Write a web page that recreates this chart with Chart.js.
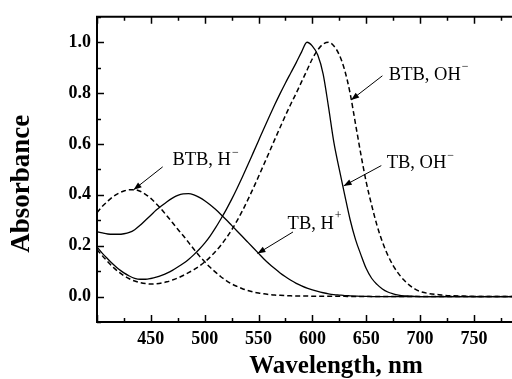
<!DOCTYPE html>
<html>
<head>
<meta charset="utf-8">
<script src="https://cdn.jsdelivr.net/npm/chart.js@4/dist/chart.umd.min.js"></script>
<style>
  html, body { margin: 0; padding: 0; background: #fff; overflow: hidden; }
  #wrap { width: 518px; height: 379px; }
</style>
</head>
<body>
<div id="wrap"><canvas id="spectra" width="518" height="379"></canvas></div>
<script>
// Longitudes de onda (nm) comunes a las cuatro curvas
const wavelength = [
  400, 405, 410, 415, 420, 425, 430, 435, 440, 445, 450, 455, 460, 465, 470, 475, 480, 485, 490, 495,
  500, 505, 510, 515, 520, 525, 530, 535, 540, 545, 550, 555, 560, 565, 570, 575, 580, 585, 590, 595,
  600, 605, 610, 615, 620, 625, 630, 635, 640, 645, 650, 655, 660, 665, 670, 675, 680, 685, 690, 695,
  700, 720, 740, 760, 790
];

// TB, H+ (continua)
const tbAcid = [
  0.255, 0.250, 0.246, 0.245, 0.245, 0.247, 0.252, 0.263, 0.280, 0.300, 0.320, 0.340, 0.357, 0.373, 0.387, 0.398, 0.404, 0.405, 0.400, 0.390,
  0.377, 0.361, 0.343, 0.323, 0.302, 0.280, 0.258, 0.236, 0.214, 0.192, 0.170, 0.148, 0.128, 0.110, 0.093, 0.078, 0.064, 0.052, 0.042, 0.033,
  0.026, 0.020, 0.015, 0.011, 0.008, 0.006, 0.004, 0.003, 0.002, 0.001, 0.001, 0, 0, 0, 0, 0, 0, 0, 0, 0,
  0, 0, 0, 0, 0
];

// BTB, H (discontinua)
const btbAcid = [
  0.330, 0.355, 0.375, 0.393, 0.406, 0.415, 0.420, 0.420, 0.414, 0.402, 0.386, 0.365, 0.342, 0.317, 0.291, 0.265, 0.240, 0.213, 0.186, 0.160,
  0.137, 0.115, 0.096, 0.078, 0.063, 0.050, 0.040, 0.031, 0.024, 0.018, 0.014, 0.011, 0.008, 0.006, 0.005, 0.004, 0.003, 0.002, 0.002, 0.002,
  0.001, 0.001, 0.001, 0.001, 0.001, 0.001, 0.001, 0, 0, 0, 0, 0, 0, 0, 0, 0, 0, 0, 0, 0,
  0, 0, 0, 0, 0
];

// TB, OH- (continua)
const tbBase = [
  0.195, 0.170, 0.148, 0.127, 0.108, 0.093, 0.081, 0.072, 0.068, 0.068, 0.071, 0.076, 0.083, 0.092, 0.103, 0.116, 0.130, 0.146, 0.165, 0.186,
  0.210, 0.238, 0.270, 0.305, 0.342, 0.382, 0.425, 0.470, 0.517, 0.565, 0.613, 0.661, 0.708, 0.754, 0.798, 0.840, 0.880, 0.920, 0.962, 1.000,
  0.985, 0.950, 0.875, 0.745, 0.605, 0.500, 0.400, 0.303, 0.225, 0.165, 0.110, 0.072, 0.048, 0.030, 0.018, 0.011, 0.006, 0.003, 0.002, 0.001,
  0, 0, 0, 0, 0
];

// BTB, OH- (discontinua)
const btbBase = [
  0.185, 0.160, 0.137, 0.115, 0.097, 0.082, 0.070, 0.061, 0.055, 0.051, 0.049, 0.050, 0.053, 0.058, 0.065, 0.073, 0.083, 0.094, 0.106, 0.120,
  0.136, 0.155, 0.177, 0.202, 0.230, 0.262, 0.298, 0.337, 0.380, 0.425, 0.472, 0.520, 0.568, 0.617, 0.665, 0.712, 0.757, 0.800, 0.845, 0.890,
  0.935, 0.970, 0.993, 1.000, 0.985, 0.950, 0.890, 0.800, 0.680, 0.560, 0.450, 0.360, 0.280, 0.215, 0.163, 0.122, 0.090, 0.065, 0.045, 0.030,
  0.020, 0.006, 0.002, 0, 0
];

// Etiquetas de los ejes
const xTicks = [450, 500, 550, 600, 650, 700, 750];
const yTicks = [0, 0.2, 0.4, 0.6, 0.8, 1.0];

const serif = '"Liberation Serif", "Times New Roman", serif';

// Flechas con etiqueta: posiciones en coordenadas de datos
const callouts = [
  { text: 'BTB, OH', sup: '\u2212', textAt: [671, 0.87], from: [665, 0.868], tip: [636, 0.773] },
  { text: 'TB, OH', sup: '\u2212', textAt: [669, 0.523], from: [664, 0.515], tip: [629, 0.435] },
  { text: 'TB, H', sup: '+', textAt: [577, 0.285], from: [582, 0.254], tip: [549, 0.169] },
  { text: 'BTB, H', sup: '\u2212', textAt: [470, 0.535], from: [461, 0.510], tip: [434, 0.420] }
];

const toPoints = ys => wavelength.map((w, i) => ({ x: w, y: ys[i] }));

const commonDataset = {
  borderColor: '#000',
  backgroundColor: '#000',
  pointRadius: 0,
  fill: false,
  cubicInterpolationMode: 'monotone'
};

// Marco superior, marcas de los ejes, títulos y flechas
const decorations = {
  id: 'decorations',
  afterDatasetsDraw(chart) {
    const { ctx, chartArea: a, scales: { x, y } } = chart;
    ctx.save();
    ctx.strokeStyle = '#000';
    ctx.fillStyle = '#000';

    ctx.lineWidth = 2;
    ctx.beginPath();
    ctx.moveTo(a.left - 1, a.top);
    ctx.lineTo(a.right + 2, a.top);
    ctx.stroke();

    // marcas hacia dentro (abajo y arriba)
    ctx.lineWidth = 1.5;
    for (let v = 400; v <= 790; v += 25) {
      const px = Math.round(x.getPixelForValue(v)) + 0.5;
      const len = v % 50 === 0 ? 7 : 4;
      ctx.beginPath();
      ctx.moveTo(px, a.bottom);
      ctx.lineTo(px, a.bottom - len);
      ctx.moveTo(px, a.top);
      ctx.lineTo(px, a.top + len);
      ctx.stroke();
    }
    for (let i = -1; i <= 11; i++) {
      const py = Math.round(y.getPixelForValue(i / 10)) + 0.5;
      const len = i % 2 === 0 ? 7 : 4;
      ctx.beginPath();
      ctx.moveTo(a.left, py);
      ctx.lineTo(a.left + len, py);
      ctx.stroke();
    }

    // títulos de los ejes
    ctx.font = 'bold 25px ' + serif;
    ctx.textAlign = 'center';
    ctx.textBaseline = 'middle';
    ctx.fillText('Wavelength, nm', a.left + 239, a.bottom + 45);
    ctx.font = 'bold 27px ' + serif;
    ctx.save();
    ctx.translate(22, a.top + 167);
    ctx.rotate(-Math.PI / 2);
    ctx.fillText('Absorbance', 0, 0);
    ctx.restore();

    // flechas y etiquetas
    ctx.textAlign = 'left';
    callouts.forEach(c => {
      const tx = x.getPixelForValue(c.textAt[0]);
      const ty = y.getPixelForValue(c.textAt[1]);
      ctx.font = '18.5px ' + serif;
      ctx.fillText(c.text, tx, ty);
      const w = ctx.measureText(c.text).width;
      ctx.font = '12px ' + serif;
      ctx.fillText(c.sup, tx + w + 1, ty - 8);

      const x0 = x.getPixelForValue(c.from[0]);
      const y0 = y.getPixelForValue(c.from[1]);
      const x1 = x.getPixelForValue(c.tip[0]);
      const y1 = y.getPixelForValue(c.tip[1]);
      const ang = Math.atan2(y1 - y0, x1 - x0);
      ctx.lineWidth = 1;
      ctx.beginPath();
      ctx.moveTo(x0, y0);
      ctx.lineTo(x1, y1);
      ctx.stroke();
      ctx.beginPath();
      ctx.moveTo(x1, y1);
      ctx.lineTo(x1 - 8 * Math.cos(ang) + 3 * Math.sin(ang), y1 - 8 * Math.sin(ang) - 3 * Math.cos(ang));
      ctx.lineTo(x1 - 8 * Math.cos(ang) - 3 * Math.sin(ang), y1 - 8 * Math.sin(ang) + 3 * Math.cos(ang));
      ctx.closePath();
      ctx.fill();
    });
    ctx.restore();
  }
};

new Chart(document.getElementById('spectra').getContext('2d'), {
  type: 'line',
  data: {
    datasets: [
      { label: 'TB, H+', data: toPoints(tbAcid), borderWidth: 1.3, ...commonDataset },
      { label: 'BTB, H', data: toPoints(btbAcid), borderWidth: 1.5, borderDash: [5, 3], ...commonDataset },
      { label: 'TB, OH-', data: toPoints(tbBase), borderWidth: 1.3, ...commonDataset },
      { label: 'BTB, OH-', data: toPoints(btbBase), borderWidth: 1.5, borderDash: [5, 3], ...commonDataset }
    ]
  },
  options: {
    responsive: false,
    animation: false,
    layout: { padding: { top: 10, right: 1, left: 0, bottom: 0 } },
    plugins: {
      legend: { display: false },
      tooltip: { enabled: false }
    },
    scales: {
      x: {
        type: 'linear',
        min: 400,
        max: 790,
        grid: { display: false, drawTicks: false },
        border: { display: true, color: '#000', width: 2 },
        ticks: {
          color: '#000',
          padding: 7,
          maxRotation: 0,
          autoSkip: false,
          font: { family: serif, size: 18, weight: 'bold' },
          callback: v => String(v)
        },
        afterBuildTicks: s => { s.ticks = xTicks.map(v => ({ value: v })); },
        afterFit: s => { s.height = 57; }
      },
      y: {
        min: -0.1,
        max: 1.1,
        grid: { display: false, drawTicks: false },
        border: { display: true, color: '#000', width: 2 },
        ticks: {
          color: '#000',
          padding: 6,
          autoSkip: false,
          font: { family: serif, size: 18, weight: 'bold' },
          callback: v => Number(v).toFixed(1)
        },
        afterBuildTicks: s => { s.ticks = yTicks.map(v => ({ value: v })); },
        afterFit: s => { s.width = 97; }
      }
    }
  },
  plugins: [decorations]
});
</script>
</body>
</html>
